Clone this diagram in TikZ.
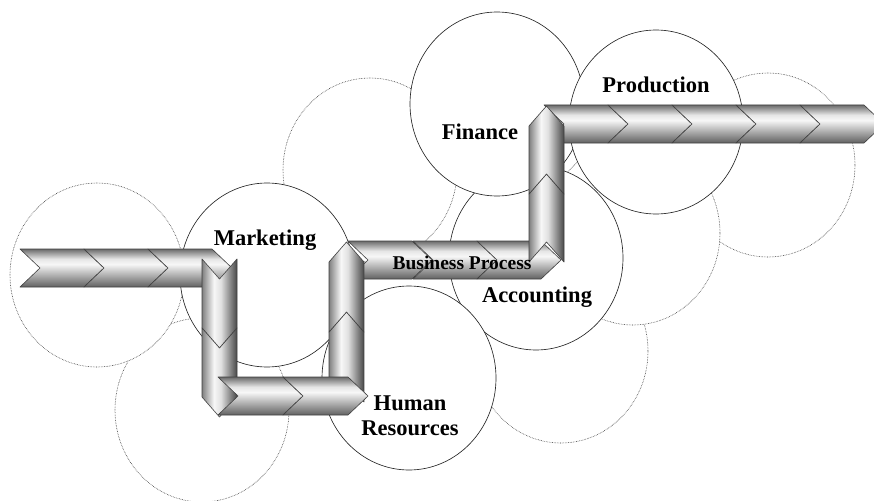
\documentclass[tikz,border=0pt]{standalone}
\usepackage{fontspec}
\setmainfont{Liberation Serif}
\usepackage{tikz}

\pgfdeclareverticalshading{hband}{100bp}{color(0bp)=(black!62); color(25bp)=(black!62); color(55bp)=(white!97!black); color(62bp)=(white!90!black); color(75bp)=(black!58); color(100bp)=(black!58)}
\pgfdeclarehorizontalshading{vband}{100bp}{color(0bp)=(black!50); color(25bp)=(black!50); color(42bp)=(white!97!black); color(52bp)=(white!88!black); color(75bp)=(black!72); color(100bp)=(black!72)}

\tikzset{
  dotcirc/.style={draw=black!80, densely dotted, line width=0.6pt, fill=white},
  fullcirc/.style={draw=black!85, line width=0.65pt, fill=white},
  hseg/.style={shade, shading=hband, draw=black!75, line width=0.6pt, line join=round},
  vseg/.style={shade, shading=vband, draw=black!75, line width=0.6pt, line join=round},
  lbl/.style={font=\bfseries\fontsize{22.5}{25}\selectfont, align=center, inner sep=0pt},
  bplbl/.style={font=\bfseries\fontsize{19.5}{22}\selectfont, inner sep=0pt}
}

% one chevron of the band: x, y of the tail, length
\newcommand{\hchev}[3]{\draw[hseg] (#1,#2) -- ++(#3,0) -- ++(20,19) -- ++(-20,19) -- ++(-#3,0) -- ++(20,-19) -- cycle;}
\newcommand{\dchev}[3]{\draw[vseg] (#1,#2) -- ++(17.5,20) -- ++(17.5,-20) -- ++(0,#3) -- ++(-17.5,20) -- ++(-17.5,-20) -- cycle;}
\newcommand{\uchev}[3]{\draw[vseg] (#1,#2) -- ++(17.5,-20) -- ++(17.5,20) -- ++(0,-#3) -- ++(-17.5,-20) -- ++(-17.5,20) -- cycle;}

\begin{document}
\begin{tikzpicture}[x=1pt,y=-1pt]
\useasboundingbox (0,0) rectangle (874,500);
\clip (0,0) rectangle (874,500);

\foreach \cx/\cy in {202/410, 97/275, 370/170, 561/351, 768/165, 633/233}
  \draw[dotcirc] (\cx,\cy) ellipse [x radius=87, y radius=92];
\foreach \cx/\cy in {536/258, 409/378, 267/275, 497/104, 656/122}
  \draw[fullcirc] (\cx,\cy) ellipse [x radius=87, y radius=92];

\node[lbl] (mkt) at (265,240) {Marketing};
\node[lbl] (fin) at (480,132) {Finance};
\node[lbl] (prod) at (656,85) {Production};
\node[lbl] (acc) at (537,297) {Accounting};
\node[lbl] (hr) at (410,416) {Human\\Resources};

\foreach \x in {20,84,148} {\hchev{\x}{249}{64}}
\foreach \y in {259,328} {\dchev{202}{\y}{69}}
\foreach \x in {348,413,477} {\hchev{\x}{241}{64}}
\foreach \y in {402,332} {\uchev{329}{\y}{70}}
\foreach \x in {218,283} {\hchev{\x}{377}{65}}
\foreach \x in {544,608,672,736,800} {\hchev{\x}{105}{64}}
\foreach \y in {262,194} {\uchev{529}{\y}{68}}

\node[bplbl] (bp) at (462,263) {Business Process};
\end{tikzpicture}
\end{document}
